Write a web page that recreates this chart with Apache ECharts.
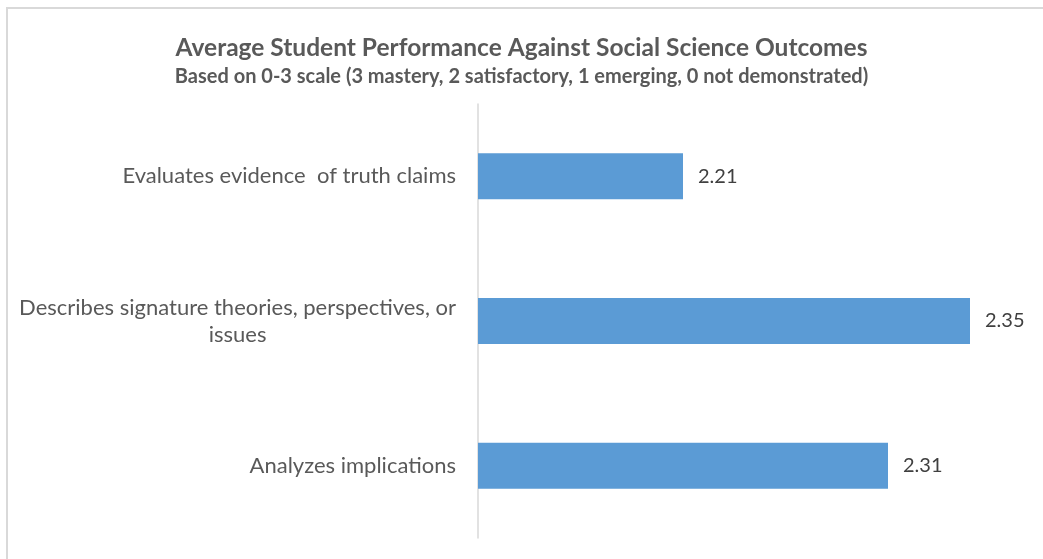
<!DOCTYPE html>
<html>
<head>
<meta charset="utf-8">
<script src="https://cdn.jsdelivr.net/npm/echarts@6/dist/echarts.min.js"></script>
<style>
  html, body { margin: 0; padding: 0; background: #fff; overflow: hidden; }
  .frame {
    position: absolute; left: 6px; top: 7px;
    width: 1100px; height: 600px;
    border: 2px solid #d9d9d9;
  }
  #chart { position: absolute; left: 0; top: 0; width: 1043px; height: 559px; }
</style>
</head>
<body>
<div class="frame"></div>
<div id="chart"></div>
<script>
// outcomes, top to bottom
const outcomes = [
  "Evaluates evidence  of truth claims",
  "Describes signature theories, perspectives, or\nissues",
  "Analyzes implications"
];
// average score on the 0-3 scale
const avgScores = [2.21, 2.35, 2.31];

const chart = echarts.init(document.getElementById("chart"));

const option = {
  animation: false,
  title: {
    text: "Average Student Performance Against Social Science Outcomes",
    subtext: "Based on 0-3 scale (3 mastery, 2 satisfactory, 1 emerging, 0 not demonstrated)",
    left: "center",
    top: 31,
    itemGap: 6,
    textStyle: { fontFamily: "Lato", fontWeight: "bold", fontSize: 24.5, color: "#595959" },
    subtextStyle: { fontFamily: "Lato", fontWeight: "bold", fontSize: 20, color: "#595959" }
  },
  grid: { left: 478, right: 32, top: 104, bottom: 21, containLabel: false },
  xAxis: {
    type: "value",
    min: 2.11,
    max: 2.37,
    show: false
  },
  yAxis: {
    type: "category",
    data: outcomes,
    inverse: true,
    axisTick: { show: false },
    axisLine: { show: true, lineStyle: { color: "#d9d9d9", width: 1.5 } },
    axisLabel: {
      margin: 22,
      align: "right",
      fontFamily: "Lato",
      fontSize: 22,
      color: "#595959",
      lineHeight: 27,
      formatter: function (v) {
        // center each line inside the label block, like Excel does
        return v.split("\n").map(s => "{c|" + s + "}").join("\n");
      },
      rich: {
        c: { align: "center", fontFamily: "Lato", fontSize: 22, color: "#595959", lineHeight: 27 }
      }
    }
  },
  series: [{
    type: "bar",
    data: avgScores,
    barWidth: 46,
    itemStyle: { color: "#5B9BD5" },
    label: {
      show: true,
      position: "right",
      distance: 15,
      fontFamily: "Lato",
      fontSize: 20,
      color: "#404040",
      formatter: p => p.value.toFixed(2)
    }
  }]
};

chart.setOption(option);
</script>
</body>
</html>
